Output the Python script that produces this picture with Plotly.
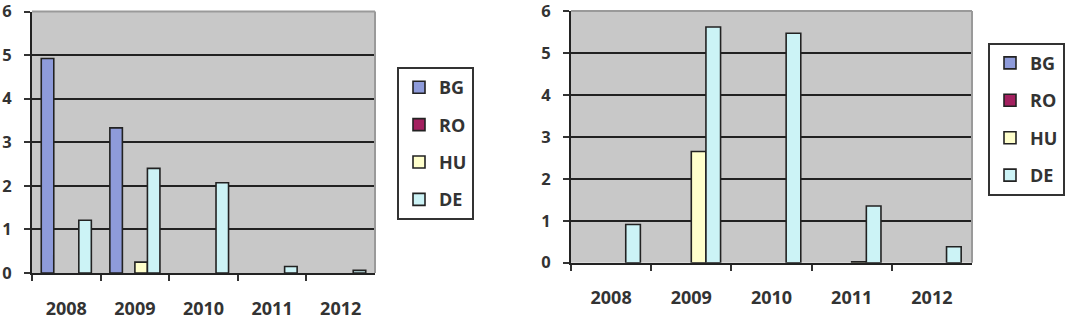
import plotly.graph_objects as go

years = ["2008", "2009", "2010", "2011", "2012"]
series = ["BG", "RO", "HU", "DE"]
colors = ["#8E9BDA", "#A3205F", "#FFFFCC", "#CCF3F6"]

# None = no bar drawn
left_BG = [4.92, 3.33, None, None, None]
left_RO = [None, None, None, None, None]
left_HU = [None, 0.25, None, None, None]
left_DE = [1.21, 2.40, 2.07, 0.15, 0.06]

right_BG = [None, None, None, None, None]
right_RO = [None, None, None, None, None]
right_HU = [None, 2.65, None, 0.02, None]
right_DE = [0.91, 5.62, 5.47, 1.35, 0.38]

left_vals = [left_BG, left_RO, left_HU, left_DE]
right_vals = [right_BG, right_RO, right_HU, right_DE]

fig = go.Figure()
for i, name in enumerate(series):
    fig.add_trace(go.Bar(x=years, y=left_vals[i], name=name, xaxis="x", yaxis="y",
                         marker=dict(color=colors[i], line=dict(color="#222222", width=1.6)),
                         legend="legend", legendgroup="L" + name, offsetgroup=name))
for i, name in enumerate(series):
    fig.add_trace(go.Bar(x=years, y=right_vals[i], name=name, xaxis="x2", yaxis="y2",
                         marker=dict(color=colors[i], line=dict(color="#222222", width=1.6)),
                         legend="legend2", legendgroup="R" + name, offsetgroup=name))

font = dict(family="Open Sans", size=18, color="#333333", weight="bold")
yfont = dict(family="Open Sans", size=16.5, color="#333333", weight="bold")
xcommon = dict(type="category", tickson="boundaries", ticks="outside", ticklen=6, tickwidth=2,
               tickcolor="#333333", showline=True, linewidth=2, linecolor="#222222",
               showgrid=False, tickfont=font, fixedrange=True, automargin=False,
               ticklabeloverflow="allow")
ycommon = dict(range=[0, 6], dtick=1, ticks="outside", ticklen=6, tickwidth=2, tickcolor="#333333",
               showline=True, linewidth=2, linecolor="#222222", showgrid=True,
               gridcolor="#222222", gridwidth=2, zeroline=False, tickfont=yfont, fixedrange=True,
               automargin=False, ticklabeloverflow="allow")

W, H = 1066, 320
fig.update_layout(
    width=W, height=H, margin=dict(l=0, r=0, t=0, b=0, autoexpand=False),
    paper_bgcolor="white", plot_bgcolor="#C8C8C8",
    barmode="group", bargap=0.27, bargroupgap=0,
    xaxis=dict(domain=[32 / W, 375 / W], anchor="y", ticklabelstandoff=18, **xcommon),
    yaxis=dict(domain=[(H - 273) / H, (H - 11.5) / H], anchor="x", ticklabelstandoff=9, **ycommon),
    xaxis2=dict(domain=[571 / W, 972 / W], anchor="y2", ticklabelstandoff=18, **xcommon),
    yaxis2=dict(domain=[(H - 262.7) / H, (H - 11) / H], anchor="x2", ticklabelstandoff=9, **ycommon),
    legend=dict(x=397 / W, y=1 - 67 / H, xanchor="left", yanchor="top", bordercolor="#333333",
                borderwidth=2, font=font, traceorder="grouped", tracegroupgap=11,
                bgcolor="white", itemwidth=30),
    legend2=dict(x=988 / W, y=1 - 42.7 / H, xanchor="left", yanchor="top", bordercolor="#333333",
                 borderwidth=2, font=font, traceorder="grouped", tracegroupgap=11,
                 bgcolor="white", itemwidth=30),
    showlegend=True,
)

for xr, yr in (("x", "y"), ("x2", "y2")):
    fig.add_shape(type="line", xref=f"{xr} domain", yref=f"{yr} domain", x0=0, x1=1, y0=1, y1=1,
                  line=dict(color="#9A9A9A", width=2), layer="above")
    fig.add_shape(type="line", xref=f"{xr} domain", yref=f"{yr} domain", x0=1, x1=1, y0=0, y1=1,
                  line=dict(color="#9A9A9A", width=2), layer="above")

fig.write_html("out.html")
